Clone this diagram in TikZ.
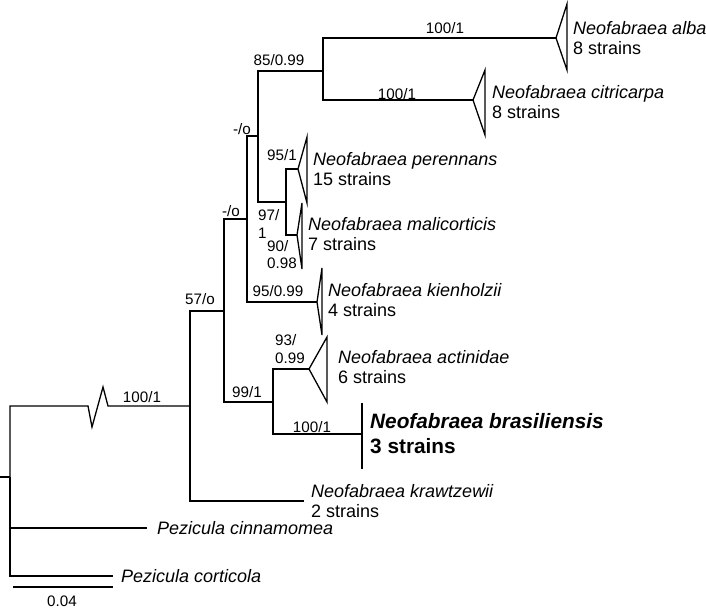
\documentclass[tikz,border=0pt]{standalone}
\usepackage{fontspec}
\setmainfont{Liberation Sans}
\begin{document}
\begin{tikzpicture}
    [
    x=1pt, y=-1pt,
    branch/.style={draw, line width=1.3pt},
    clade/.style={draw, line width=1.3pt, line join=miter},
    taxon/.style={anchor=west, inner sep=0pt, align=left, font=\fontsize{18}{20}\selectfont},
    boldtaxon/.style={taxon, font=\fontsize{20.8}{25}\selectfont\bfseries},
    support/.style={inner sep=0pt, font=\fontsize{15.2}{17.5}\selectfont},
    supportleft/.style={support, anchor=west, align=left}
    ]
    \useasboundingbox (0,0) rectangle (706,609);
    \coordinate (stub) at (0,477);
    \coordinate (root) at (10,477);
    \coordinate (z1) at (88,406);
    \coordinate (z2) at (92,427);
    \coordinate (z3) at (103,387);
    \coordinate (z4) at (108,406);
    \coordinate (n1) at (190,406);
    \coordinate (n2) at (224,311);
    \coordinate (n3) at (247,219);
    \coordinate (n4) at (258,136);
    \coordinate (n5) at (323,71);
    \coordinate (n6) at (286,202);
    \coordinate (n7) at (273,402);
    \coordinate (t-alba) at (556,38);
    \coordinate (t-citri) at (473,100);
    \coordinate (t-peren) at (298,169);
    \coordinate (t-mali) at (297,235);
    \coordinate (t-kien) at (317,302);
    \coordinate (t-acti) at (309,369);
    \coordinate (t-bras) at (362,434);
    \coordinate (t-kraw) at (304,501);
    \coordinate (t-cinn) at (147,528);
    \coordinate (t-cort) at (113,576);
    \draw [branch] (stub) -- (root);
    \draw [branch] (root) |- (z1) -- (z2) -- (z3) -- (z4) -- (n1);
    \draw [branch] (root) |- (t-cinn);
    \draw [branch] (root) |- (t-cort);
    \draw [branch] (n1) |- (n2);
    \draw [branch] (n1) |- (t-kraw);
    \draw [branch] (n2) |- (n3);
    \draw [branch] (n2) |- (n7);
    \draw [branch] (n3) |- (n4);
    \draw [branch] (n3) |- (t-kien);
    \draw [branch] (n4) |- (n5);
    \draw [branch] (n4) |- (n6);
    \draw [branch] (n5) |- (t-alba);
    \draw [branch] (n5) |- (t-citri);
    \draw [branch] (n6) |- (t-peren);
    \draw [branch] (n6) |- (t-mali);
    \draw [branch] (n7) |- (t-acti);
    \draw [branch] (n7) |- (t-bras);
    \draw [clade] (t-alba) -- ++(11,-34) -- ++(0,66) -- cycle;
    \draw [clade] (t-citri) -- ++(12,-30) -- ++(0,65) -- cycle;
    \draw [clade] (t-peren) -- ++(9,-32) -- ++(0,66) -- cycle;
    \draw [clade] (t-mali) -- ++(5,-32) -- ++(0,66) -- cycle;
    \draw [clade] (t-kien) -- ++(5,-34) -- ++(0,67) -- cycle;
    \draw [clade] (t-acti) -- ++(18,-32) -- ++(0,65) -- cycle;
    \draw [branch] (t-bras) ++(0,-31) -- ++(0,66);
    \node (alba) at (573,38) [taxon] {\textit{Neofabraea alba}\\8 strains};
    \node (citri) at (492,102) [taxon] {\textit{Neofabraea citricarpa}\\8 strains};
    \node (peren) at (313,169) [taxon] {\textit{Neofabraea perennans}\\15 strains};
    \node (mali) at (308,234) [taxon] {\textit{Neofabraea malicorticis}\\7 strains};
    \node (kien) at (328,300) [taxon] {\textit{Neofabraea kienholzii}\\4 strains};
    \node (acti) at (338,367) [taxon] {\textit{Neofabraea actinidae}\\6 strains};
    \node (bras) at (370,434) [boldtaxon] {\textit{Neofabraea brasiliensis}\\3 strains};
    \node (kraw) at (311,501) [taxon] {\textit{Neofabraea krawtzewii}\\2 strains};
    \node (cinn) at (157,528) [taxon] {\textit{Pezicula cinnamomea}};
    \node (cort) at (121,576) [taxon] {\textit{Pezicula corticola}};
    \node (s1) at (142,397) [support] {100/1};
    \node (s2) at (200,299) [support] {57/o};
    \node (s3) at (231,211) [support] {-/o};
    \node (s4) at (242,129) [support] {-/o};
    \node (s5) at (279,60) [support] {85/0.99};
    \node (s6) at (445,28) [support] {100/1};
    \node (s7) at (397,94) [support] {100/1};
    \node (s8) at (282,155) [support] {95/1};
    \node (s9) at (258,224) [supportleft] {97/\\1};
    \node (s10) at (267,254.5) [supportleft] {90/\\0.98};
    \node (s11) at (278,291) [support] {95/0.99};
    \node (s12) at (275,349) [supportleft] {93/\\0.99};
    \node (s13) at (247,392) [support] {99/1};
    \node (s14) at (312,427) [support] {100/1};
    \coordinate (sb1) at (13,587);
    \coordinate (sb2) at (113,587);
    \draw [branch] (sb1) -- (sb2);
    \node (scale) at (62,601.5) [support] {0.04};
  \end{tikzpicture}
\end{document}
